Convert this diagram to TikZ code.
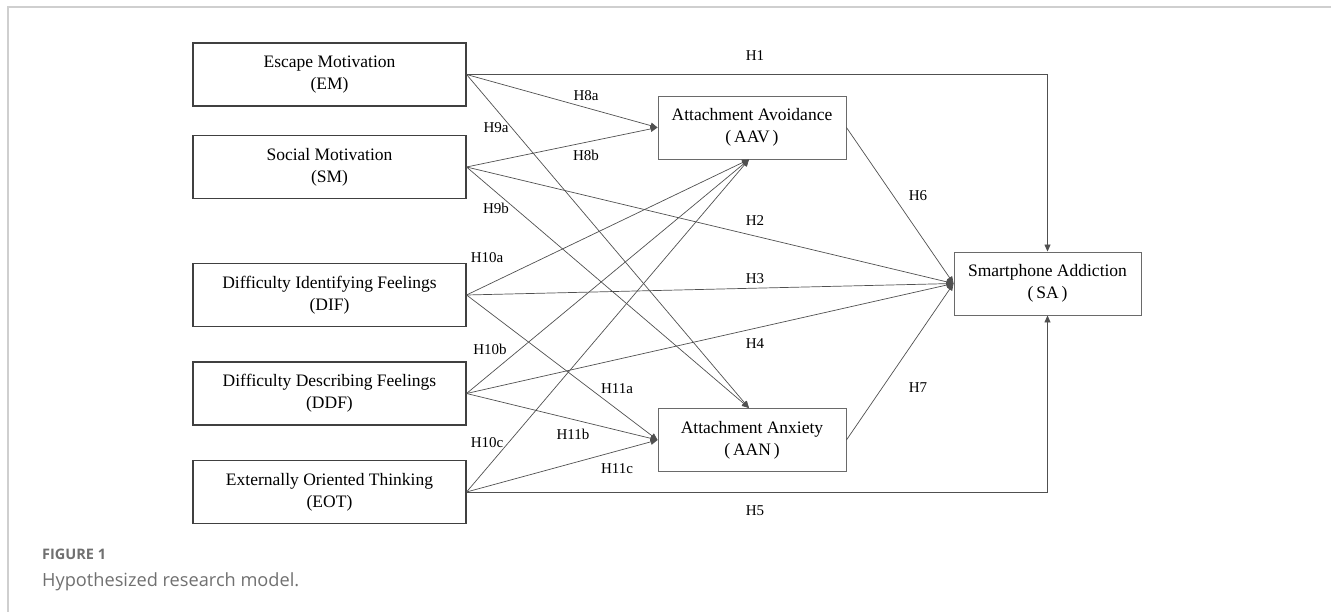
\documentclass[tikz,border=0pt]{standalone}
\usepackage{fontspec}
\setmainfont{Liberation Serif}
\newfontfamily\capfont{Open Sans}
\usetikzlibrary{arrows.meta}
\definecolor{framegray}{HTML}{CFCFCF}
\definecolor{linegray}{HTML}{505050}
\definecolor{boxgray}{HTML}{404040}
\definecolor{mboxgray}{HTML}{6A6A6A}
\definecolor{capgray}{HTML}{707070}
\begin{document}
\begin{tikzpicture}[x=1pt,y=-1pt,
  box/.style={draw=boxgray, line width=1.1pt, minimum width=273pt, minimum height=63pt,
    align=center, font=\fontsize{17.5}{22}\selectfont, inner sep=0pt},
  mbox/.style={box, draw=mboxgray, line width=0.9pt, minimum width=188pt},
  conn/.style={draw=linegray, line width=0.7pt, -{Triangle[length=7pt,width=6pt]}},
  hlab/.style={font=\fontsize{15}{18}\selectfont, inner sep=1pt},
  capt/.style={anchor=base west, inner sep=0pt, text=capgray}]
\useasboundingbox (0,0) rectangle (1331,612);
\draw[framegray, line width=1.5pt] (8,612) -- (8,7) -- (1331,7);

% boxes
\node[box] (EM)  at (329.5,74.5) {Escape Motivation\\(EM)};
\node[box] (SM)  at (329.5,167)  {Social Motivation\\(SM)};
\node[box] (DIF) at (329.5,295)  {Difficulty Identifying Feelings\\(DIF)};
\node[box] (DDF) at (329.5,393.5){Difficulty Describing Feelings\\(DDF)};
\node[box] (EOT) at (329.5,492)  {Externally Oriented Thinking\\(EOT)};
\node[mbox] (AAV) at (752,127.5) {Attachment Avoidance\\(\,AAV\,)};
\node[mbox] (AAN) at (752,440)   {Attachment Anxiety\\(\,AAN\,)};
\node[mbox, minimum width=187pt] (SA) at (1047.5,283.5) {Smartphone Addiction\\(\,SA\,)};

\coordinate (AAVs) at ([xshift=-3pt]AAV.south);
\coordinate (AANn) at ([xshift=-3pt]AAN.north);

% connectors
\draw[conn] (EM.east) -| (SA.north);
\draw[conn] (EM.east) -- (AAV.west);
\draw[conn] (EM.east) -- (AANn);
\draw[conn] (SM.east) -- (AAV.west);
\draw[conn] (SM.east) -- (SA.west);
\draw[conn] (SM.east) -- (AANn);
\draw[conn] (DIF.east) -- (AAVs);
\draw[conn] (DIF.east) -- (SA.west);
\draw[conn] (DIF.east) -- (AAN.west);
\draw[conn] (DDF.east) -- (AAVs);
\draw[conn] (DDF.east) -- (SA.west);
\draw[conn] (DDF.east) -- (AAN.west);
\draw[conn] (EOT.east) -- (AAVs);
\draw[conn] (EOT.east) -- (AAN.west);
\draw[conn] (EOT.east) -| (SA.south);
\draw[conn] (AAV.east) -- (SA.west);
\draw[conn] (AAN.east) -- (SA.west);

% labels
\node[hlab] (h1)   at (755,56)  {H1};
\node[hlab] (h8a)  at (586,96)  {H8a};
\node[hlab] (h9a)  at (496,128) {H9a};
\node[hlab] (h8b)  at (586,155) {H8b};
\node[hlab] (h9b)  at (496,208) {H9b};
\node[hlab] (h2)   at (755,221) {H2};
\node[hlab] (h6)   at (918,196) {H6};
\node[hlab] (h10a) at (487,258) {H10a};
\node[hlab] (h3)   at (755,279) {H3};
\node[hlab] (h10b) at (490,349) {H10b};
\node[hlab] (h4)   at (755,344) {H4};
\node[hlab] (h11a) at (617,389) {H11a};
\node[hlab] (h7)   at (918,388) {H7};
\node[hlab] (h11b) at (573,434) {H11b};
\node[hlab] (h10c) at (487,443) {H10c};
\node[hlab] (h11c) at (617,469) {H11c};
\node[hlab] (h5)   at (755,511) {H5};

% caption
\node[capt, font=\capfont\bfseries\fontsize{14.5}{16}\selectfont] (fig) at (42,559) {FIGURE 1};
\node[capt, font=\capfont\fontsize{18.2}{21}\selectfont] (cap) at (42,586) {Hypothesized research model.};
\end{tikzpicture}
\end{document}
